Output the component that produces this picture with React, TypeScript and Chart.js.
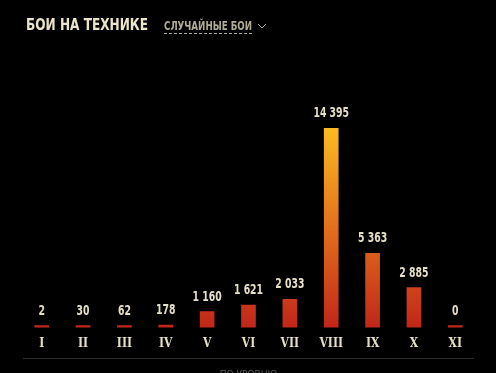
import React, { useEffect, useRef } from "react";
import { Chart, registerables } from "chart.js";

Chart.register(...registerables);

const categories = ["I", "II", "III", "IV", "V", "VI", "VII", "VIII", "IX", "X", "XI"];
const battles = [2, 30, 62, 178, 1160, 1621, 2033, 14395, 5363, 2885, 0];
const titleText = "БОИ НА ТЕХНИКЕ";
const filterText = "СЛУЧАЙНЫЕ БОИ";
const footerText = "ПО УРОВНЮ";

const fmt = (v: number) => String(v).replace(/\B(?=(\d{3})+(?!\d))/g, " ");

export default function App() {
  const ref = useRef<HTMLCanvasElement>(null);
  useEffect(() => {
    const canvas = ref.current!;
    const labelPlugin = {
      id: "labels",
      afterDatasetsDraw(chart: any) {
        const ctx = chart.ctx;
        const meta = chart.getDatasetMeta(0);
        ctx.save();
        // value labels (condensed)
        ctx.fillStyle = "#e6dfc6";
        ctx.textAlign = "center";
        ctx.textBaseline = "alphabetic";
        ctx.font = "600 14px 'DejaVu Sans Condensed', sans-serif";
        meta.data.forEach((el: any, i: number) => {
          const t = fmt(battles[i]);
          const w = ctx.measureText(t).width * 0.74;
          ctx.fillText(t, el.x, el.y - 11, w);
        });
        // divider line
        const a = chart.chartArea;
        ctx.strokeStyle = "#2b2b2b";
        ctx.lineWidth = 1;
        ctx.beginPath();
        ctx.moveTo(23, 358.5);
        ctx.lineTo(474, 358.5);
        ctx.stroke();
        ctx.font = "9px 'DejaVu Sans', sans-serif";
        ctx.fillStyle = "#5a5a5a";
        ctx.fillText(footerText, (a.left + a.right) / 2, 377);
        // header
        ctx.textAlign = "left";
        ctx.font = "bold 16px 'DejaVu Sans Condensed', sans-serif";
        ctx.fillStyle = "#ece4c8";
        ctx.fillText(titleText, 26, 30, 122);
        ctx.font = "bold 12.5px 'DejaVu Sans Condensed', sans-serif";
        ctx.fillStyle = "#b0ab94";
        ctx.fillText(filterText, 164, 30, 88);
        ctx.strokeStyle = "#b0ab94";
        ctx.setLineDash([3, 2]);
        ctx.beginPath();
        ctx.moveTo(164, 33.5);
        ctx.lineTo(253, 33.5);
        ctx.stroke();
        ctx.setLineDash([]);
        ctx.beginPath();
        ctx.moveTo(258, 24);
        ctx.lineTo(262, 28);
        ctx.lineTo(266, 24);
        ctx.stroke();
        ctx.restore();
      },
    };
    const chart = new Chart(canvas, {
      type: "bar",
      data: {
        labels: categories,
        datasets: [
          {
            data: battles,
            minBarLength: 2,
            barThickness: 14,
            backgroundColor: (c: any) => {
              const area = c.chart.chartArea;
              if (!area) return "#c4281a";
              const g = c.chart.ctx.createLinearGradient(0, area.top, 0, area.bottom);
              g.addColorStop(0, "#fbbb20");
              g.addColorStop(0.5, "#e2701c");
              g.addColorStop(1, "#c0261a");
              return g;
            },
            borderWidth: 0,
          },
        ],
      },
      options: {
        responsive: false,
        animation: false,
        events: [],
        layout: { padding: { top: 128, left: 21, right: 20, bottom: 13 } },
        plugins: { legend: { display: false }, tooltip: { enabled: false } },
        scales: {
          x: {
            offset: true,
            grid: { display: false, drawTicks: false },
            border: { display: false },
            ticks: {
              padding: 9,
              color: "#e6dfc6",
              font: { family: "'DejaVu Serif Condensed', 'DejaVu Serif', serif", size: 12, weight: "bold" },
            },
          },
          y: { display: false, min: 0, max: 14395 },
        },
      },
      plugins: [labelPlugin],
    });
    return () => chart.destroy();
  }, []);

  return (
    <div style={{ position: "fixed", left: 0, top: 0, width: 496, height: 373, background: "#000", overflow: "hidden" }}>
      <canvas ref={ref} width={496} height={373} style={{ position: "absolute", left: 0, top: 0 }} />
    </div>
  );
}
